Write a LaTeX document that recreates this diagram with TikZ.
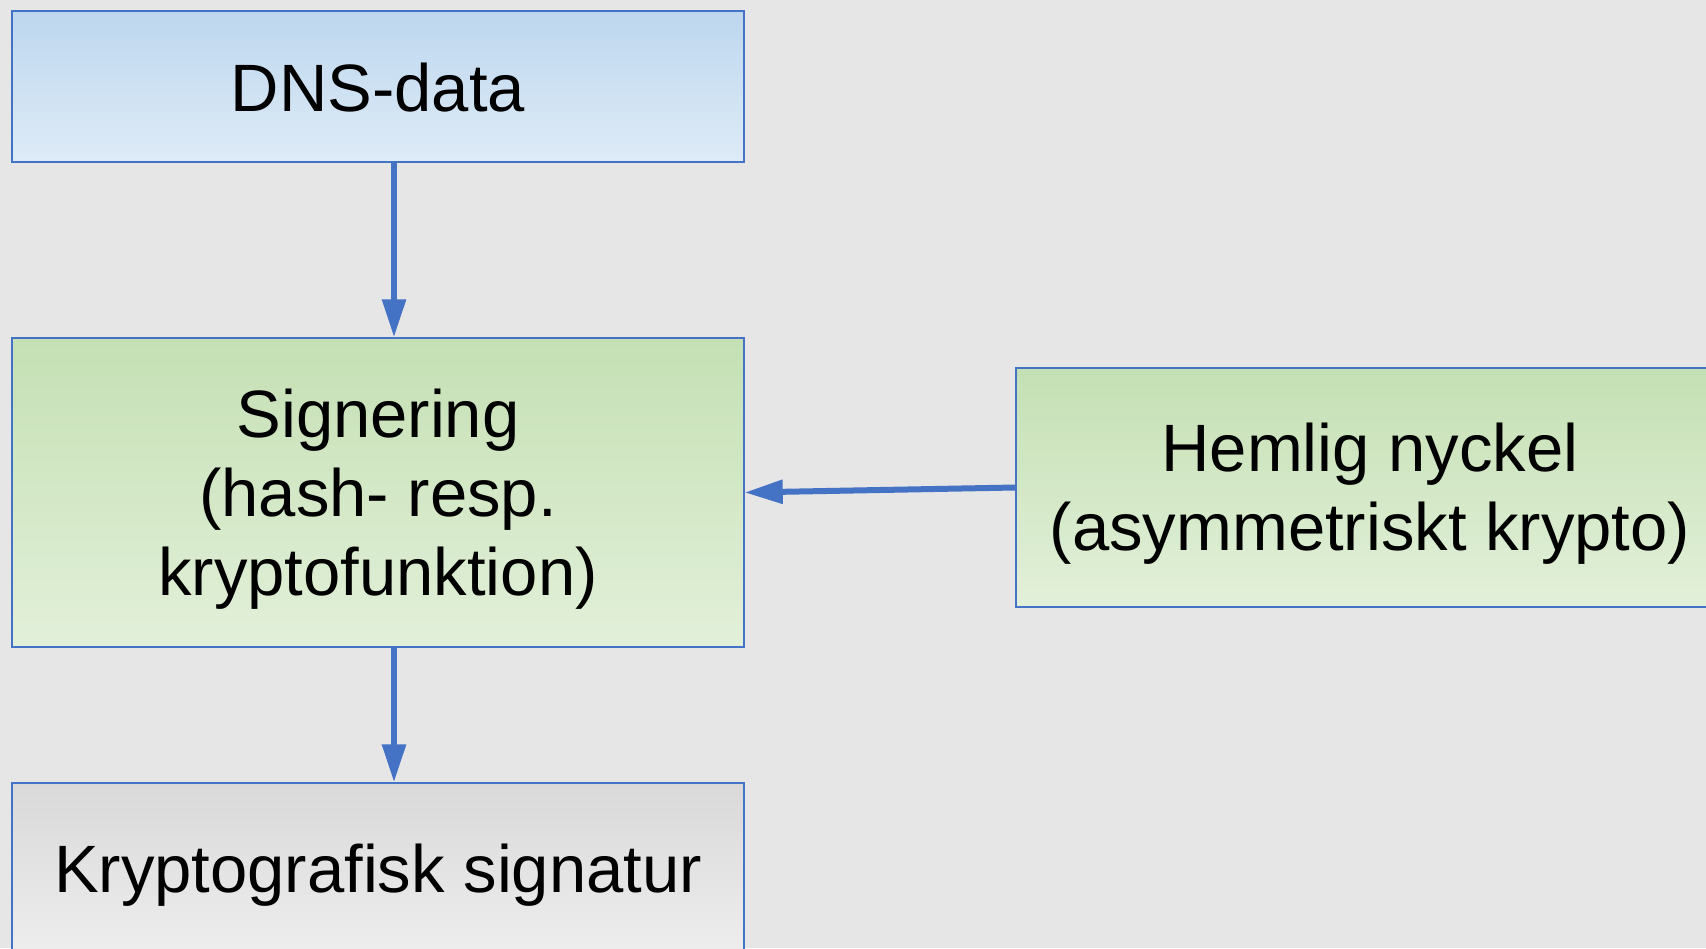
\documentclass[tikz,border=0pt]{standalone}
\usepackage{fontspec}
\setmainfont{Liberation Sans}
\usetikzlibrary{arrows.meta}
\definecolor{bg}{HTML}{E6E6E6}
\definecolor{edge}{HTML}{4472C4}
\definecolor{bluetop}{HTML}{BDD7EE}
\definecolor{bluebot}{HTML}{DEEBF7}
\definecolor{greentop}{HTML}{C5E0B4}
\definecolor{greenbot}{HTML}{E2F0D9}
\definecolor{greytop}{HTML}{D9D9D9}
\definecolor{greybot}{HTML}{EEEEEE}
\tikzset{
  box/.style={draw=edge, line width=0.75pt, rectangle, inner sep=0pt},
  bluebox/.style={box, top color=bluetop, bottom color=bluebot},
  greenbox/.style={box, top color=greentop, bottom color=greenbot},
  greybox/.style={box, top color=greytop, bottom color=greybot},
  label/.style={align=center, inner sep=0pt, text=black,
    font=\fontsize{33.5}{39.5}\selectfont},
  conn/.style={draw=edge, line width=3pt, -{Triangle[length=19pt,width=11.5pt]}}
}
\begin{document}
\begin{tikzpicture}[x=0.5pt,y=-0.5pt]
\useasboundingbox (0,0) rectangle (1706,948);
\clip (0,0) rectangle (1706,948);
\fill[bg] (0,0) rectangle (1706,948);
\node[bluebox, minimum width=366pt, minimum height=75.5pt] (dns) at (378,86.5) {};
\node[greenbox, minimum width=366pt, minimum height=154.5pt] (sig) at (378,492.5) {};
\node[greenbox, minimum width=354pt, minimum height=119.5pt] (hem) at (1370,487.5) {};
\node[greybox, minimum width=366pt, minimum height=87pt] (kry) at (378,870) {};
\node[label, yshift=-0.5pt] (dnst) at (dns.center) {DNS-data};
\node[label, yshift=-3.5pt] (sigt) at (sig.center) {Signering\\(hash- resp.\\kryptofunktion)};
\node[label, yshift=-3pt] (hemt) at (hem.center) {Hemlig nyckel\\(asymmetriskt krypto)};
\node[label, yshift=-2.5pt] (kryt) at (kry.center) {Kryptografisk signatur};
\draw[conn] (dns.south -| 394,0) -- (sig.north -| 394,0);
\draw[conn] (sig.south -| 394,0) -- (kry.north -| 394,0);
\draw[conn] (hem.west) -- (sig.east);
\end{tikzpicture}
\end{document}
